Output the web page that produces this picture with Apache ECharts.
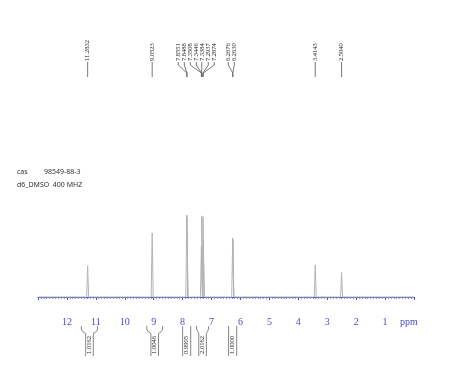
<!DOCTYPE html>
<html><head><meta charset="utf-8">
<script src="https://cdn.jsdelivr.net/npm/echarts@6/dist/echarts.min.js"></script>
<style>html,body{margin:0;padding:0;background:#fff}#c{width:474px;height:385px}</style>
</head><body><div id="c"></div>
<script>
// ---- data ----
const axisMin = 0;
const axisMax = 13;
const tickLabels = ['12','11','10','9','8','7','6','5','4','3','2','1'];
const axisUnit = 'ppm';
const peakShifts = [11.2832, 9.0523, 7.8551, 7.8488, 7.3508, 7.3446, 7.3384, 7.2937, 7.2874, 6.2676, 6.2630, 3.4143, 2.5040];
const peakHeights = [0.38, 0.78, 1.00, 0.97, 0.62, 0.99, 0.60, 0.98, 0.70, 0.72, 0.70, 0.39, 0.30];
const integralFrom = [11.50, 9.24, 8.00, 7.52, 6.41];
const integralTo = [10.94, 8.69, 7.72, 7.10, 6.13];
const integralValues = ['1.0162', '1.0046', '0.9905', '2.0162', '1.0000'];
const infoLines = [['cas', '98549-88-3'], ['d6_DMSO  400 MHZ']];

// ---- build spectrum trace from peak list ----
const halfWidth = 0.035;
const order = peakShifts.map((s, i) => i).sort((a, b) => peakShifts[b] - peakShifts[a]);
const spectrum = [[axisMax, 0]];
order.forEach(i => {
  spectrum.push([peakShifts[i] + halfWidth, 0]);
  spectrum.push([peakShifts[i], peakHeights[i]]);
  spectrum.push([peakShifts[i] - halfWidth, 0]);
});
spectrum.push([axisMin, 0]);

const AX = '#4a4acd';
const chart = echarts.init(document.getElementById('c'));

let labelCache = null;
function layoutLabels(api) {
  const gap = 6;
  const xs = peakShifts.map(s => api.coord([s, 0])[0]);
  const idx = xs.map((x, i) => i).sort((a, b) => xs[a] - xs[b]);
  let blocks = idx.map(i => ({ members: [i] }));
  const center = b => b.members.reduce((s, i) => s + xs[i], 0) / b.members.length;
  let merged = true;
  while (merged) {
    merged = false;
    for (let k = 0; k < blocks.length - 1; k++) {
      const b = blocks[k], c = blocks[k + 1];
      const bR = center(b) + (b.members.length - 1) * gap / 2;
      const cL = center(c) - (c.members.length - 1) * gap / 2;
      if (cL - bR < gap) {
        blocks.splice(k, 2, { members: b.members.concat(c.members) });
        merged = true;
        break;
      }
    }
  }
  const pos = [];
  blocks.forEach(b => {
    const n = b.members.length;
    const start = center(b) - (n - 1) * gap / 2 - (n > 1 ? 1.5 : 0);
    b.members.forEach((i, k) => { pos[i] = start + k * gap; });
  });
  return { xs, pos };
}

const option = {
  animation: false,
  backgroundColor: '#fff',
  graphic: [
    { type: 'text', left: 17, top: 168, style: { text: infoLines[0][0], fontSize: 7, fontFamily: 'Noto Sans', fill: '#333' } },
    { type: 'text', left: 44, top: 168, style: { text: infoLines[0][1], fontSize: 7, fontFamily: 'Noto Sans', fill: '#333' } },
    { type: 'text', left: 17, top: 181, style: { text: infoLines[1][0], fontSize: 7, fontFamily: 'Noto Sans', fill: '#333' } }
  ],
  grid: { left: 38, right: 60, top: 215, bottom: 74 },
  xAxis: {
    type: 'value', min: axisMin, max: axisMax, interval: 1, inverse: true,
    axisLine: { show: true, lineStyle: { color: AX, width: 1 } },
    axisTick: { show: true, length: 3, lineStyle: { color: AX } },
    minorTick: { show: true, splitNumber: 10, length: 2, lineStyle: { color: AX, width: 0.6 } },
    splitLine: { show: false },
    axisLabel: {
      margin: 6, color: AX, fontSize: 10, fontFamily: 'Liberation Serif',
      formatter: v => {
        if (v === axisMin) return '{u|' + axisUnit + '}';
        const s = String(v);
        return tickLabels.indexOf(s) >= 0 ? s : '';
      },
      rich: { u: { width: 28, align: 'left', color: AX, fontSize: 10, fontFamily: 'Liberation Serif' } },
      showMinLabel: true, showMaxLabel: true
    }
  },
  yAxis: { type: 'value', min: -0.1707, max: 1, show: false },
  series: [
    {
      type: 'line', data: spectrum, showSymbol: false, symbol: 'none',
      lineStyle: { color: '#b4b4b4', width: 1 }, silent: true
    },
    {
      type: 'custom', clip: false, silent: true,
      data: peakShifts.map((s, i) => [s, peakHeights[i]]),
      renderItem: (params, api) => {
        if (params.dataIndex === 0 || !labelCache) labelCache = layoutLabels(api);
        const i = params.dataIndex;
        const px = labelCache.xs[i], lx = labelCache.pos[i];
        const pts = Math.abs(px - lx) < 0.8
          ? [[px, 62], [px, 77]]
          : [[lx, 62], [lx, 65], [px, 73], [px, 77]];
        return {
          type: 'group', children: [
            { type: 'text', x: lx, y: 61, rotation: Math.PI / 2,
              style: { text: peakShifts[i].toFixed(4), fontSize: 6.5, fontFamily: 'Liberation Serif', fill: '#222', align: 'left', verticalAlign: 'middle' } },
            { type: 'polyline', shape: { points: pts }, style: { stroke: '#555', lineWidth: 0.8, fill: null } }
          ]
        };
      }
    },
    {
      type: 'custom', clip: false, silent: true,
      data: integralFrom.map((f, i) => [f, integralTo[i]]),
      renderItem: (params, api) => {
        const i = params.dataIndex;
        const x1 = api.coord([api.value(0), 0])[0];
        const x2 = api.coord([api.value(1), 0])[0];
        const cx = (x1 + x2) / 2, inner = 3.8;
        const kids = [];
        const st = { stroke: '#666', lineWidth: 0.8, fill: null };
        if ((x2 - x1) / 2 > inner + 1.5) {
          kids.push({ type: 'polyline', shape: { points: [[x1, 326], [x1, 329], [x1 + 1.2, 331.5], [cx - inner, 333.5], [cx - inner, 356]] }, style: st });
          kids.push({ type: 'polyline', shape: { points: [[x2, 326], [x2, 329], [x2 - 1.2, 331.5], [cx + inner, 333.5], [cx + inner, 356]] }, style: st });
        } else {
          kids.push({ type: 'polyline', shape: { points: [[x1, 326], [x1, 356]] }, style: st });
          kids.push({ type: 'polyline', shape: { points: [[x2, 326], [x2, 356]] }, style: st });
        }
        kids.push({ type: 'text', x: cx, y: 345, rotation: Math.PI / 2,
          style: { text: integralValues[i], fontSize: 6.5, fontFamily: 'Liberation Serif', fill: '#222', align: 'center', verticalAlign: 'middle' } });
        return { type: 'group', children: kids };
      }
    }
  ]
};
chart.setOption(option);
</script>
</body></html>
